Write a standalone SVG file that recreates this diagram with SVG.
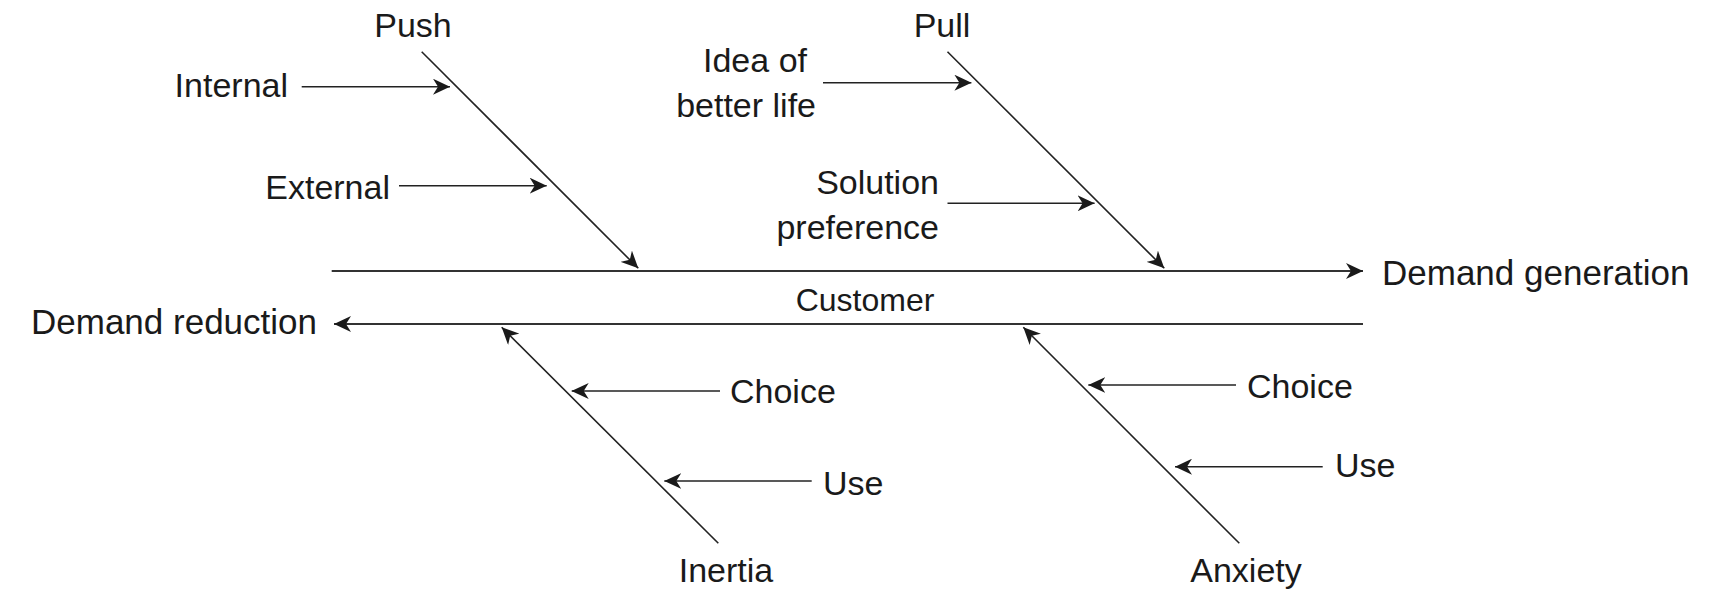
<svg xmlns="http://www.w3.org/2000/svg" width="1717" height="601" viewBox="0 0 1717 601">
<style>
text{font-family:"Liberation Sans",Arial,sans-serif;font-size:34px;fill:#1a1a1a}
.m{text-anchor:middle}.e{text-anchor:end}
.big{font-size:35px}
line{stroke:#222;stroke-width:1.6;fill:none}
.spine{stroke:#333;stroke-width:2}
.a{marker-end:url(#ah)}
</style>
<defs>
<marker id="ah" markerUnits="userSpaceOnUse" viewBox="0 0 17 16" refX="17" refY="8" markerWidth="17" markerHeight="16" orient="auto">
<path d="M0,0 L17,8 L0,16 L5,8 Z" fill="#1a1a1a"/>
</marker>
</defs>
<g id="connectors">
<line class="spine a" x1="331.7" y1="271" x2="1363" y2="271"/>
<line class="spine a" x1="1363" y1="324" x2="334" y2="324"/>
<line class="a" x1="421.7" y1="51.7" x2="638.3" y2="268.3"/>
<line class="a" x1="947.5" y1="51.7" x2="1164.3" y2="268.3"/>
<line class="a" x1="718.3" y1="543.3" x2="501.7" y2="327.3"/>
<line class="a" x1="1239.3" y1="543.3" x2="1023.3" y2="327.3"/>
<line class="a" x1="301.7" y1="86.7" x2="450" y2="86.7"/>
<line class="a" x1="399" y1="185.7" x2="546.7" y2="185.7"/>
<line class="a" x1="823" y1="82.7" x2="971.4" y2="82.7"/>
<line class="a" x1="947.5" y1="203.3" x2="1094.6" y2="203.3"/>
<line class="a" x1="720" y1="391" x2="571.7" y2="391"/>
<line class="a" x1="811.7" y1="481" x2="664.3" y2="481"/>
<line class="a" x1="1236" y1="385" x2="1088.3" y2="385"/>
<line class="a" x1="1322.7" y1="466.7" x2="1175" y2="466.7"/>
</g>
<g id="push"><text class="m" x="413" y="37">Push</text></g>
<g id="pull"><text class="m" x="942" y="37">Pull</text></g>
<g id="internal"><text class="e" x="288" y="97">Internal</text></g>
<g id="external"><text class="e" x="390" y="199">External</text></g>
<g id="idea"><text class="e" x="807" y="72">Idea of</text><text class="e" x="816" y="117">better life</text></g>
<g id="solution"><text class="e" x="939" y="194">Solution</text><text class="e" x="939" y="239">preference</text></g>
<g id="demand-generation"><text class="big" x="1382" y="285">Demand generation</text></g>
<g id="customer"><text class="m" x="865" y="311" style="font-size:32px">Customer</text></g>
<g id="demand-reduction"><text class="e big" x="317" y="334">Demand reduction</text></g>
<g id="choice-inertia"><text x="730" y="403">Choice</text></g>
<g id="use-inertia"><text x="823" y="495">Use</text></g>
<g id="inertia"><text class="m" x="726" y="582">Inertia</text></g>
<g id="choice-anxiety"><text x="1247" y="398">Choice</text></g>
<g id="use-anxiety"><text x="1335" y="477">Use</text></g>
<g id="anxiety"><text class="m" x="1246" y="582">Anxiety</text></g>
</svg>
